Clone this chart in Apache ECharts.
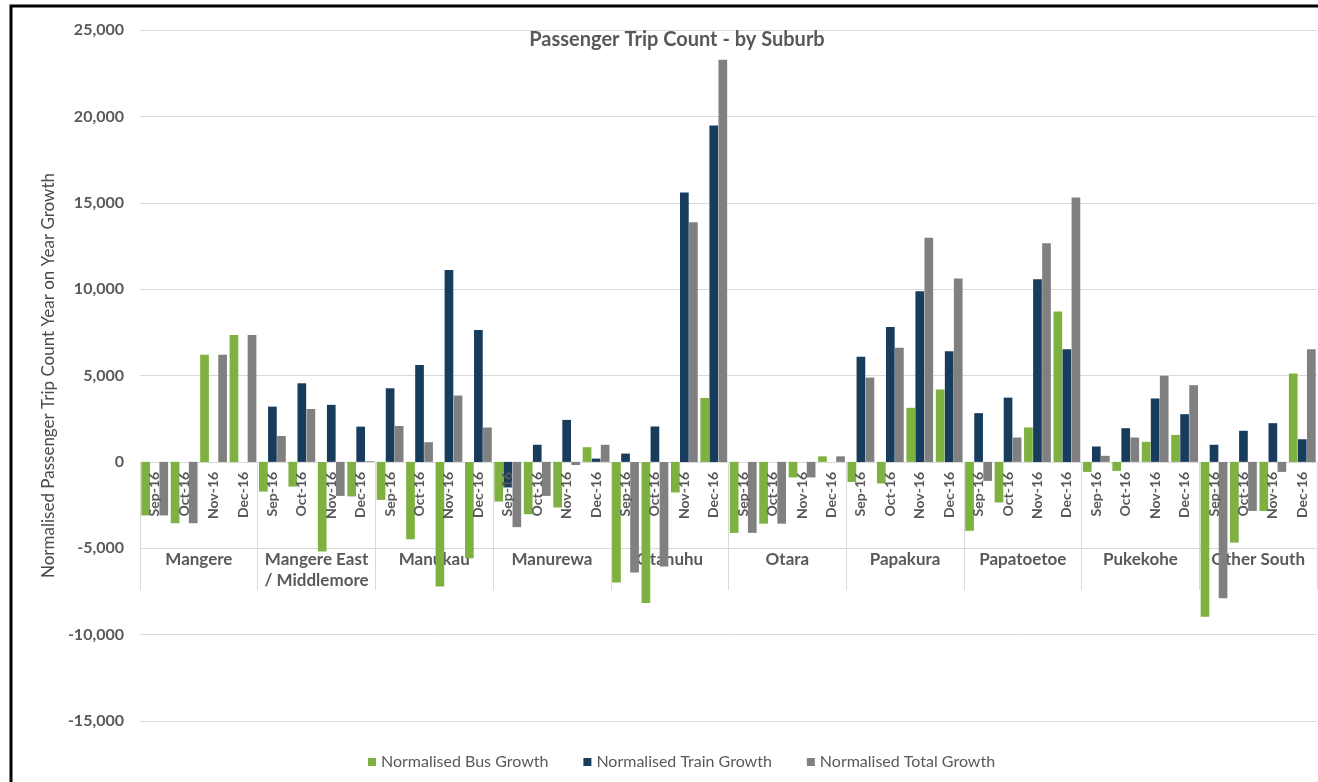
<!DOCTYPE html>
<html>
<head>
<meta charset="utf-8">
<title>Passenger Trip Count - by Suburb</title>
<script src="https://cdn.jsdelivr.net/npm/echarts@6/dist/echarts.min.js"></script>
<style>
  html, body { margin: 0; padding: 0; background: #ffffff; }
  #chart { width: 1318px; height: 782px; }
</style>
</head>
<body>
<div id="chart"></div>
<script>
// Months shown under each suburb group
const months = ['Sep-16', 'Oct-16', 'Nov-16', 'Dec-16'];

// Suburb groups (outer category level)
const suburbs = ['Mangere', 'Mangere East\n/ Middlemore', 'Manukau', 'Manurewa', 'Otahuhu',
  'Otara', 'Papakura', 'Papatoetoe', 'Pukekohe', 'Other South'];

// Year-on-year growth, four months per suburb, in suburb order
const busGrowth = [
  -3100, -3550, 6200, 7350,
  -1720, -1430, -5190, -2000,
  -2200, -4480, -7220, -5580,
  -2300, -3030, -2640, 850,
  -6980, -8170, -1770, 3700,
  -4110, -3580, -900, 320,
  -1160, -1250, 3130, 4190,
  -3990, -2350, 1990, 8700,
  -580, -520, 1160, 1560,
  -8970, -4670, -2840, 5110
];

const trainGrowth = [
  0, 0, 0, 0,
  3200, 4550, 3300, 2040,
  4260, 5610, 11110, 7640,
  -1480, 990, 2430, 190,
  480, 2050, 15590, 19470,
  0, 0, 0, 0,
  6080, 7810, 9880, 6400,
  2820, 3720, 10570, 6520,
  890, 1950, 3670, 2760,
  990, 1800, 2240, 1310
];

const totalGrowth = [
  -3100, -3550, 6200, 7350,
  1500, 3060, -1970, 40,
  2080, 1140, 3840, 1990,
  -3780, -1970, -180, 990,
  -6400, -6060, 13870, 23280,
  -4110, -3580, -900, 320,
  4880, 6600, 12980, 10610,
  -1100, 1410, 12650, 15300,
  350, 1410, 4980, 4440,
  -7890, -2840, -580, 6520
];

// Value axis range
const yMin = -15000, yMax = 25000, yStep = 5000;

// Inner category keys: one per suburb/month pair
const categories = [];
suburbs.forEach(function (s) {
  months.forEach(function (m) { categories.push(s + '|' + m); });
});

const FONT = 'Lato, "Open Sans", sans-serif';
const TEXT = '#595959';
const GRID_LINE = '#d9d9d9';
const PLOT_LEFT = 140, PLOT_RIGHT = 1;
const PLOT_TOP = 30, PLOT_BOTTOM = 61;

const chart = echarts.init(document.getElementById('chart'), null, { renderer: 'canvas' });

// Pixel row of the zero line, used to hang the category label bands under it
const plotHeight = 782 - PLOT_TOP - PLOT_BOTTOM;
const zeroY = PLOT_TOP + plotHeight * yMax / (yMax - yMin);

chart.setOption({
  backgroundColor: '#ffffff',
  animation: false,
  title: {
    text: 'Passenger Trip Count - by Suburb',
    left: 672,
    top: 25,
    textAlign: 'center',
    textStyle: { fontFamily: FONT, fontSize: 20, fontWeight: 'bold', color: TEXT }
  },
  legend: {
    left: 363,
    top: 749,
    icon: 'rect',
    itemWidth: 8,
    itemHeight: 8,
    itemGap: 35,
    textStyle: { fontFamily: FONT, fontSize: 16, color: TEXT },
    data: ['Normalised Bus Growth', 'Normalised Train Growth', 'Normalised Total Growth']
  },
  graphic: [{
    type: 'rect',
    shape: { x: 11, y: 6, width: 1400, height: 900 },
    style: { fill: 'none', stroke: '#000000', lineWidth: 3 },
    silent: true,
    z: 100
  }],
  grid: [
    // main plot
    { left: PLOT_LEFT, right: PLOT_RIGHT, top: PLOT_TOP, bottom: PLOT_BOTTOM },
    // suburb band: dividers and outer labels
    { left: PLOT_LEFT, right: PLOT_RIGHT, top: zeroY, height: 128 },
    // month band directly under the zero line
    { left: PLOT_LEFT, right: PLOT_RIGHT, top: zeroY, height: 86 }
  ],
  xAxis: [
    {
      type: 'category',
      gridIndex: 0,
      data: categories,
      axisLine: { show: false },
      axisTick: { show: false },
      axisLabel: { show: false },
      splitLine: { show: false }
    },
    {
      type: 'category',
      gridIndex: 1,
      position: 'bottom',
      offset: -42,
      data: suburbs,
      axisLine: { show: true, lineStyle: { color: GRID_LINE } },
      axisTick: { show: false },
      splitLine: { show: true, interval: 0, lineStyle: { color: GRID_LINE } },
      axisLabel: {
        interval: 0,
        margin: 1,
        fontFamily: FONT,
        fontSize: 17,
        fontWeight: 'bold',
        lineHeight: 21,
        color: TEXT
      }
    },
    {
      type: 'category',
      gridIndex: 2,
      position: 'top',
      data: categories,
      z: 5,
      axisLine: { show: false },
      axisTick: { show: false },
      splitLine: { show: false },
      axisLabel: {
        interval: 0,
        inside: true,
        rotate: 90,
        margin: 10,
        fontFamily: FONT,
        fontSize: 14,
        fontWeight: 'bold',
        color: TEXT,
        formatter: function (v) { return v.split('|')[1]; }
      }
    }
  ],
  yAxis: [
    {
      type: 'value',
      gridIndex: 0,
      min: yMin,
      max: yMax,
      interval: yStep,
      name: 'Normalised Passenger Trip Count Year on Year Growth',
      nameLocation: 'middle',
      nameRotate: 90,
      nameGap: 83,
      nameTextStyle: { fontFamily: FONT, fontSize: 17, color: '#4a4a4a' },
      axisLine: { show: false },
      axisTick: { show: false },
      splitLine: { lineStyle: { color: GRID_LINE } },
      axisLabel: {
        margin: 16,
        fontFamily: FONT,
        fontSize: 16,
        fontWeight: 'bold',
        color: TEXT,
        formatter: function (v) { return echarts.format.addCommas(v); }
      }
    },
    { type: 'value', gridIndex: 1, min: 0, max: 1, show: false },
    { type: 'value', gridIndex: 2, min: 0, max: 1, show: false }
  ],
  series: [
    {
      name: 'Normalised Bus Growth', type: 'bar', xAxisIndex: 0, yAxisIndex: 0,
      data: busGrowth, itemStyle: { color: '#7eb13f' },
      barGap: '4%', barCategoryGap: '9%'
    },
    {
      name: 'Normalised Train Growth', type: 'bar', xAxisIndex: 0, yAxisIndex: 0,
      data: trainGrowth, itemStyle: { color: '#183c5c' }
    },
    {
      name: 'Normalised Total Growth', type: 'bar', xAxisIndex: 0, yAxisIndex: 0,
      data: totalGrowth, itemStyle: { color: '#808080' }
    }
  ]
});
</script>
</body>
</html>
